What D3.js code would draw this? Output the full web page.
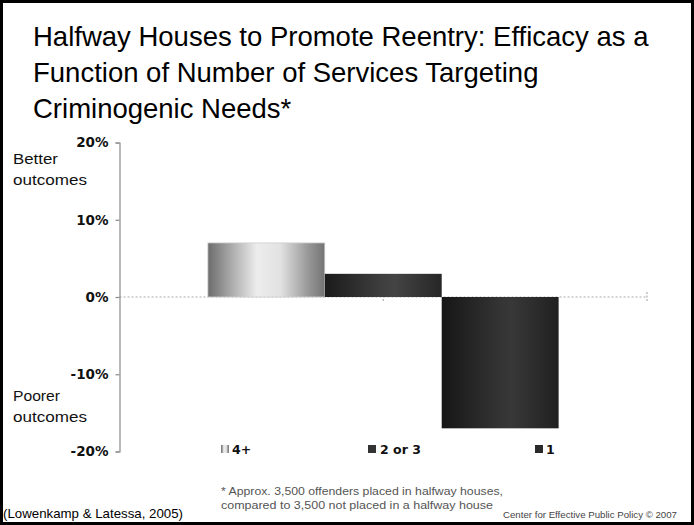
<!DOCTYPE html>
<html>
<head>
<meta charset="utf-8">
<script src="https://cdn.jsdelivr.net/npm/d3@7"></script>
<style>
  html, body { margin: 0; padding: 0; background: #fff; }
  svg { display: block; }
</style>
</head>
<body>
<script>
// Chart data
const categories = ["4+", "2 or 3", "1"];
const efficacy = [7, 3, -17];              // percent change in outcomes
const tickValues = [20, 10, 0, -10, -20];
const titleLines = [
  "Halfway Houses to Promote Reentry: Efficacy as a",
  "Function of Number of Services Targeting",
  "Criminogenic Needs*"
];
const footnoteLines = [
  "* Approx. 3,500 offenders placed in halfway houses,",
  "compared to 3,500 not placed in a halfway house"
];
const sourceText = "(Lowenkamp & Latessa, 2005)";
const creditText = "Center for Effective Public Policy \u00A9 2007";

const W = 694, H = 525;
const svg = d3.select("body").append("svg").attr("width", W).attr("height", H);

// Gradients for the shaded bars
const defs = svg.append("defs");
const gradStops = [
  [[0, "#6c6c6c"], [0.18, "#a4a4a4"], [0.42, "#ededed"], [0.62, "#e2e2e2"], [0.85, "#9a9a9a"], [1, "#737373"]],
  [[0, "#1b1b1b"], [0.5, "#3f3f3f"], [0.6, "#444"], [1, "#262626"]],
  [[0, "#161616"], [0.5, "#343434"], [0.6, "#383838"], [1, "#202020"]]
];
gradStops.forEach((stops, i) => {
  const g = defs.append("linearGradient").attr("id", "g" + i)
    .attr("x1", "0%").attr("x2", "100%").attr("y1", "0%").attr("y2", "0%");
  stops.forEach(([o, c]) => g.append("stop").attr("offset", o).attr("stop-color", c));
});

// Frame
svg.append("rect").attr("x", 1.5).attr("y", 1.5).attr("width", W - 3).attr("height", H - 3)
  .attr("fill", "#fff").attr("stroke", "#000").attr("stroke-width", 3);

// Title
svg.append("g").selectAll("text").data(titleLines).join("text")
  .attr("x", 33).attr("y", (d, i) => 46 + i * 36)
  .attr("font-family", "Liberation Sans, Arial, sans-serif")
  .attr("font-size", 27.5).attr("fill", "#000")
  .text(d => d);

// Scales
const plotLeft = 119.5, plotRight = 647;
const y = d3.scaleLinear().domain([-20, 20]).range([451.5, 142.5]);
const x = d3.scaleBand().domain(categories).range([plotLeft, plotRight]).paddingInner(0).paddingOuter(0.756);

// Zero line (dotted) with small category markers
svg.append("line").attr("x1", plotLeft).attr("x2", plotRight).attr("y1", y(0)).attr("y2", y(0))
  .attr("stroke", "#aaa").attr("stroke-width", 1.2).attr("stroke-dasharray", "2,2");
[(plotLeft + plotRight) / 2, plotRight].forEach(px => {
  svg.append("line").attr("x1", px).attr("x2", px).attr("y1", y(0) - 5).attr("y2", y(0) + 5)
    .attr("stroke", "#b0b0b0").attr("stroke-width", 1.2).attr("stroke-dasharray", "2,1.5");
});

// Bars
svg.append("g").selectAll("rect").data(efficacy).join("rect")
  .attr("x", (d, i) => x(categories[i]))
  .attr("width", x.bandwidth())
  .attr("y", d => y(Math.max(0, d)))
  .attr("height", d => Math.abs(y(d) - y(0)))
  .attr("fill", (d, i) => `url(#g${i})`)
  .attr("stroke", (d, i) => i === 0 ? "#cfcfcf" : "none")
  .attr("stroke-width", 0.8);

// Y axis
const yAxis = d3.axisLeft(y).tickValues(tickValues).tickSize(4).tickPadding(7)
  .tickFormat(d => d + "%");
const ax = svg.append("g").attr("transform", `translate(${plotLeft},0)`).call(yAxis);
ax.select(".domain").attr("stroke", "#8a8a8a").attr("stroke-width", 1.2);
ax.selectAll(".tick line").attr("stroke", "#8a8a8a").attr("stroke-width", 1.2);
ax.selectAll(".tick text")
  .attr("font-family", "DejaVu Sans, Verdana, sans-serif")
  .attr("font-weight", "bold").attr("font-size", 13.5).attr("fill", "#111");

// Side labels
const sideFont = "Liberation Sans, Arial, sans-serif";
[["Better", 164, 45], ["outcomes", 185, 74], ["Poorer", 401, 47], ["outcomes", 422, 74]].forEach(([t, yy, w]) => {
  svg.append("text").attr("x", 13).attr("y", yy)
    .attr("font-family", sideFont).attr("font-size", 15).attr("fill", "#111")
    .attr("textLength", w).attr("lengthAdjust", "spacingAndGlyphs").text(t);
});

// Legend
const legendMarkColor = ["#b5b5b5", "#333", "#2a2a2a"];
const legendX = [221, 368, 535];
const leg = svg.append("g").selectAll("g").data(categories).join("g")
  .attr("transform", (d, i) => `translate(${legendX[i]},445)`);
leg.append("rect").attr("width", 8).attr("height", 8)
  .attr("fill", (d, i) => i === 0 ? "url(#g0)" : legendMarkColor[i]);
leg.filter((d, i) => i === 0).append("g").selectAll("line").data([2.5, 5.5]).join("line")
  .attr("x1", d => d).attr("x2", d => d).attr("y1", 0).attr("y2", 8)
  .attr("stroke", "#ddd").attr("stroke-width", 1);
leg.append("text").attr("x", (d, i) => i === 1 ? 12 : 11).attr("y", 8.5)
  .attr("font-family", "DejaVu Sans, Verdana, sans-serif")
  .attr("font-weight", "bold").attr("font-size", 12.5).attr("fill", "#111")
  .text(d => d);

// Footnote
svg.append("g").selectAll("text").data(footnoteLines).join("text")
  .attr("x", 221).attr("y", (d, i) => 495 + i * 14)
  .attr("font-family", "Liberation Sans, Arial, sans-serif")
  .attr("font-size", 11).attr("fill", "#555")
  .attr("textLength", (d, i) => [282, 272][i]).attr("lengthAdjust", "spacingAndGlyphs")
  .text(d => d);

// Source and credit
svg.append("text").attr("x", 3).attr("y", 518)
  .attr("font-family", "Liberation Sans, Arial, sans-serif").attr("font-size", 13).attr("fill", "#000")
  .attr("textLength", 180).attr("lengthAdjust", "spacingAndGlyphs").text(sourceText);
svg.append("text").attr("x", 503).attr("y", 518)
  .attr("font-family", "Liberation Sans, Arial, sans-serif").attr("font-size", 9).attr("fill", "#444")
  .attr("textLength", 174).attr("lengthAdjust", "spacingAndGlyphs").text(creditText);
</script>
</body>
</html>
